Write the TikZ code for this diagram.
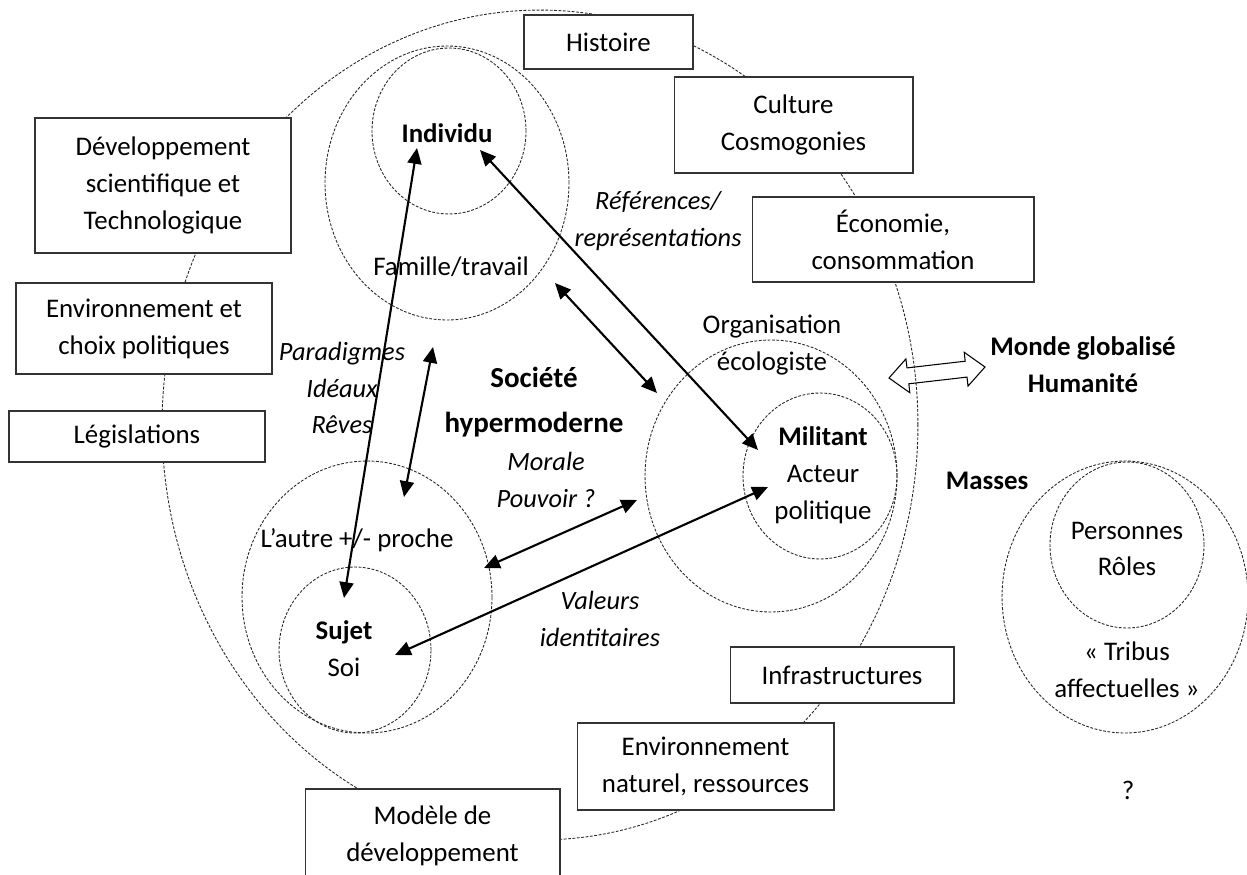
\documentclass[tikz,border=0pt]{standalone}
\usepackage{fontspec}
\setmainfont{Carlito}
\usetikzlibrary{shapes.geometric,arrows.meta}

\begin{document}
\begin{tikzpicture}[x=0.02cm,y=-0.02cm]
\tikzstyle{box}=[rectangle,draw=black!80,line width=0.6pt,fill=white,align=center,inner sep=0pt,font=\fontsize{15.3}{21}\selectfont]
\tikzstyle{ring}=[ellipse,draw=black!85,line width=0.5pt,dash pattern=on 1.6pt off 0.9pt,inner sep=0pt]
\tikzstyle{lbl}=[align=center,inner sep=0pt,font=\fontsize{15.3}{21}\selectfont]
\tikzstyle{link}=[{Triangle[length=9pt,width=8pt]}-{Triangle[length=9pt,width=8pt]},line width=1.2pt]

\useasboundingbox (0,0) rectangle (1247,875);

% Outer ring (society)
\node (SOC) [ring,minimum width=15.12cm,minimum height=16.6cm] at (540,425) {};

% Context boxes
\node (HIST) [box,minimum width=3.38cm,minimum height=1.08cm] at (608.5,42) {Histoire};
\node (CULT) [box,minimum width=4.78cm,minimum height=1.92cm] at (793.5,125) {Culture\\Cosmogonies};
\node (ECON) [box,minimum width=5.64cm,minimum height=1.7cm] at (893,239.5) {Économie,\\consommation};
\node (DEVT) [box,minimum width=5.12cm,minimum height=2.7cm] at (163,185.5) {Développement\\scientifique et\\Technologique};
\node (ENVP) [box,minimum width=5.12cm,minimum height=1.82cm] at (144,328.5) {Environnement et\\choix politiques};
\node (LEGI) [box,minimum width=5.12cm,minimum height=1.02cm] at (137,436.5) {Législations};
\node (MODL) [box,minimum width=5.1cm,minimum height=1.86cm] at (432.5,835.5) {Modèle de\\développement};
\node (ENVN) [box,minimum width=5.14cm,minimum height=1.74cm] at (705.5,766.5) {Environnement\\naturel, ressources};
\node (INFR) [box,minimum width=4.48cm,minimum height=1.12cm] at (842,675) {Infrastructures};

% Inner rings
\node (FAM) [ring,minimum width=4.88cm,minimum height=5.48cm] at (447,183) {};
\node (IND) [ring,minimum width=3.08cm,minimum height=3.32cm] at (449,131) {};
\node (AUT) [ring,minimum width=5.0cm,minimum height=5.44cm] at (367,597) {};
\node (SUJ) [ring,minimum width=3.04cm,minimum height=3.32cm] at (355,650) {};
\node (ORG) [ring,minimum width=5.04cm,minimum height=5.44cm] at (771,476) {};
\node (MIL) [ring,minimum width=3.08cm,minimum height=3.32cm] at (820,476) {};
\node (MAS) [ring,minimum width=4.92cm,minimum height=5.44cm] at (1125,597) {};
\node (PER) [ring,minimum width=3.08cm,minimum height=3.32cm] at (1127,545) {};

% Labels
\node (INDT) [lbl,font=\fontsize{15.3}{21}\bfseries] at (447,133) {Individu};
\node (FAMT) [lbl] at (451,267) {Famille/travail};
\node (PARA) [lbl,font=\fontsize{15}{21}\itshape] at (342,388) {Paradigmes\\Idéaux\\Rêves};
\node (SOCT) [lbl,font=\fontsize{16.5}{25.5}\bfseries] at (534,402) {Société\\hypermoderne};
\node (MORA) [lbl,font=\fontsize{15}{21}\itshape] at (546,480) {Morale\\Pouvoir ?};
\node (REFS) [lbl,font=\fontsize{15}{21}\itshape] at (658,221) {Références/\\représentations};
\node (ORGT) [lbl] at (772,345) {Organisation\\écologiste};
\node (MILT) [lbl] at (823,475) {\textbf{Militant}\\Acteur\\politique};
\node (AUTT) [lbl] at (357,540) {L’autre +/- proche};
\node (SUJT) [lbl] at (344,649) {\textbf{Sujet}\\Soi};
\node (VALS) [lbl,font=\fontsize{15}{21}\itshape] at (600,619) {Valeurs\\identitaires};
\node (MOND) [lbl,font=\fontsize{15.3}{21}\bfseries] at (1083,365) {Monde globalisé\\Humanité};
\node (MAST) [lbl,font=\fontsize{15.3}{21}\bfseries] at (987,481) {Masses};
\node (PERT) [lbl] at (1127,549) {Personnes\\Rôles};
\node (TRIB) [lbl] at (1127,670) {«~Tribus\\affectuelles~»};
\node (QUES) [lbl] at (1128,790) {?};

% Arrow ends
\coordinate (A1) at (417,148);
\coordinate (B1) at (344,598);
\coordinate (A2) at (433,347);
\coordinate (B2) at (404,497);
\coordinate (A3) at (480,150);
\coordinate (B3) at (758,450);
\coordinate (A4) at (555,283);
\coordinate (B4) at (657,393);
\coordinate (A5) at (484,568);
\coordinate (B5) at (637,500);
\coordinate (A6) at (395,655);
\coordinate (B6) at (768,487);

\draw[link] (A1) -- (B1);
\draw[link] (A2) -- (B2);
\draw[link] (A3) -- (B3);
\draw[link] (A4) -- (B4);
\draw[link] (A5) -- (B5);
\draw[link] (A6) -- (B6);

% Hollow arrow to the globalised world
\draw[line width=0.6pt] (889,378) -- (905.9,358.9) -- (907.0,367.9) -- (965.2,361.2) -- (964.2,352.3) -- (985,367) -- (968.0,386.1) -- (967.0,377.1) -- (908.8,383.8) -- (909.8,392.7) -- cycle;

\end{tikzpicture}
\end{document}
